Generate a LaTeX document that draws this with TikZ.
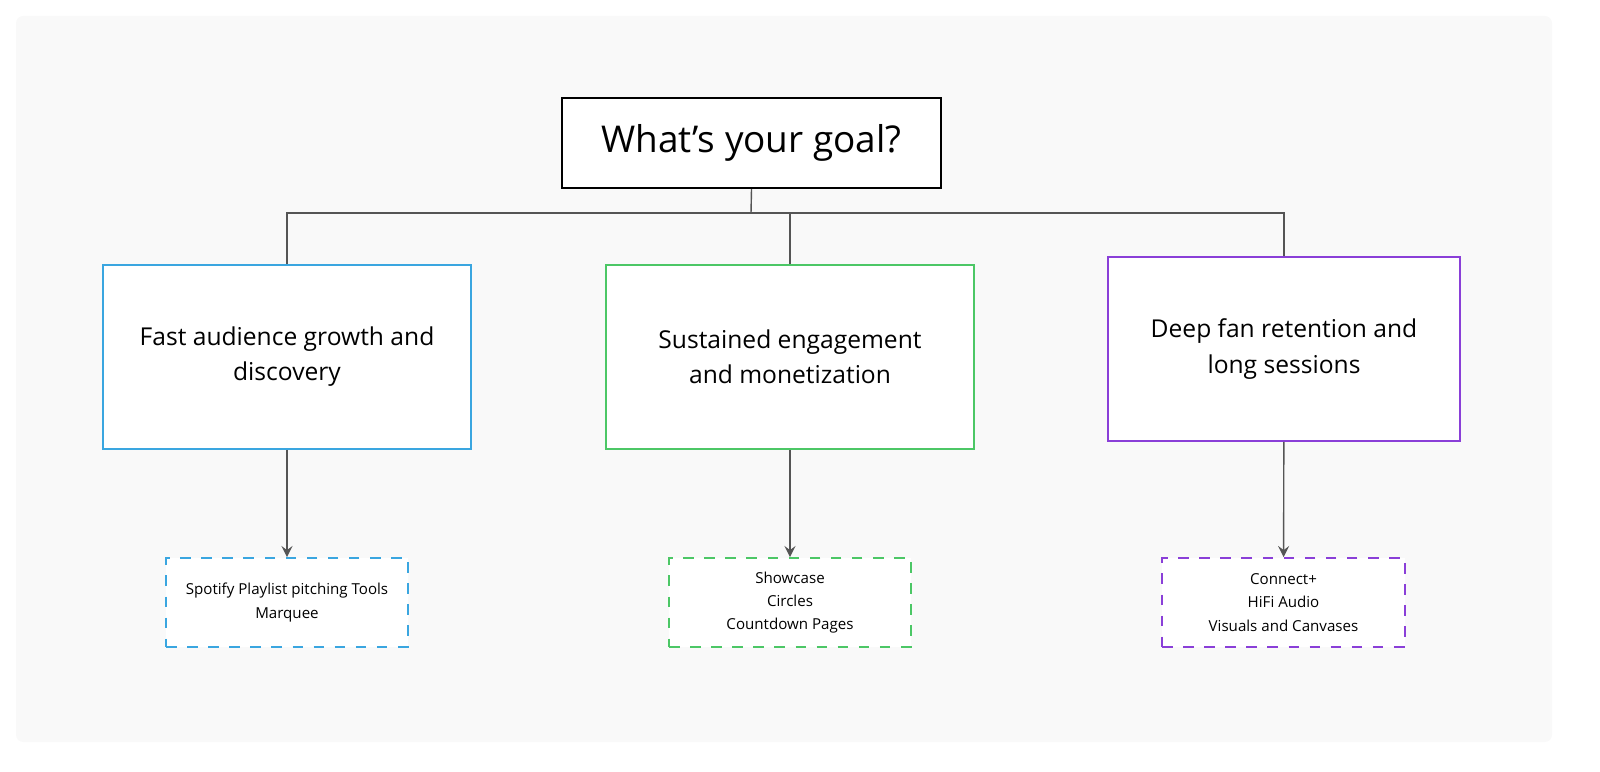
\documentclass[tikz,border=0pt]{standalone}
\usepackage{fontspec}
\setmainfont{Open Sans}
\definecolor{bgc}{HTML}{F9F9F9}
\definecolor{blu}{HTML}{3AA6E0}
\definecolor{grn}{HTML}{4CC766}
\definecolor{prp}{HTML}{8A3FD8}
\definecolor{lnc}{HTML}{555555}
\tikzset{
  goal/.style={draw,fill=white,line width=0.6pt,minimum width=3.79cm,minimum height=0.9cm,font=\fontsize{10.5}{12}\selectfont},
  aim/.style={draw,fill=white,line width=0.5pt,minimum width=3.68cm,minimum height=1.84cm,align=center,font=\fontsize{7}{10}\selectfont},
  tool/.style={draw,dashed,fill=white,line width=0.5pt,minimum width=2.42cm,minimum height=0.89cm,align=center,font=\fontsize{4.3}{6.6}\selectfont},
  link/.style={draw=lnc,line width=0.4pt}
}
\begin{document}
\begin{tikzpicture}
\useasboundingbox (0,0) rectangle (16,7.71);
\fill[bgc,rounded corners=2pt] (0.16,0.29) rectangle (15.52,7.55);
\node[goal] (q) at (7.515,6.28) {What’s your goal?};
\node[aim,draw=blu] (a1) at (2.87,4.14) {Fast audience growth and\\discovery};
\node[aim,draw=grn] (a2) at (7.90,4.14) {Sustained engagement\\and monetization};
\node[aim,draw=prp,minimum width=3.52cm] (a3) at (12.84,4.22) {Deep fan retention and\\long sessions};
\node[tool,draw=blu] (t1) at (2.87,1.685) {Spotify Playlist pitching Tools\\Marquee};
\node[tool,draw=grn] (t2) at (7.90,1.685) {Showcase\\Circles\\Countdown Pages};
\node[tool,draw=prp,minimum width=2.43cm] (t3) at (12.835,1.685) {Connect+\\HiFi Audio\\Visuals and Canvases};
\coordinate (j) at (7.51,5.58);
\draw[link] (q.south) -- (j);
\draw[link] (a1.north) -- (a1.north|-j) -- (a3.north|-j) -- (a3.north);
\draw[link] (a2.north) -- (a2.north|-j);
\draw[link,-stealth] (a1) -- (t1);
\draw[link,-stealth] (a2) -- (t2);
\draw[link,-stealth] (a3) -- (t3);
\end{tikzpicture}
\end{document}
